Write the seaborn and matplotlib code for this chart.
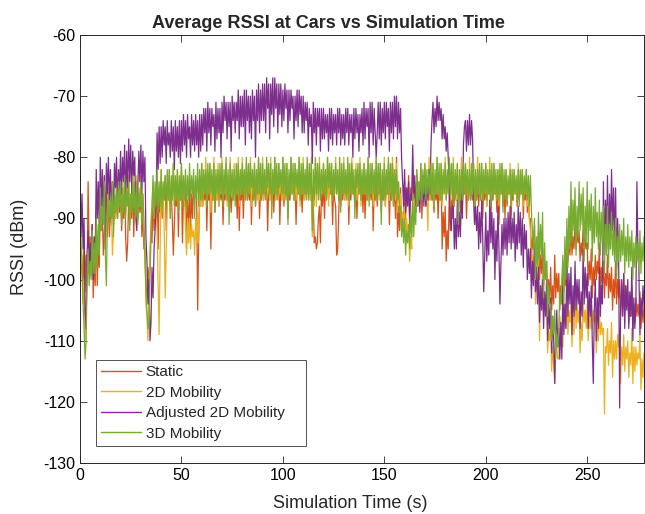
import numpy as np
import seaborn as sns
import matplotlib
matplotlib.use("Agg")
import matplotlib.pyplot as plt

# RSSI, one sample every half second of simulation time (0 .. 278 s)
SAMPLE_STEP_S = 0.5

static_rssi = [
    -88, -97, -99, -103, -92, -102, -96, -100, -84, -96, -93, -98, -91, -103, -97, -101, -90, -101, -95, -98,
    -86, -92, -89, -96, -92, -89, -86, -93, -85, -93, -88, -91, -84, -91, -87, -90, -86, -90, -85, -89,
    -85, -92, -88, -90, -84, -93, -97, -94, -86, -91, -87, -90, -84, -93, -86, -89, -85, -90, -86, -89,
    -85, -93, -89, -95, -95, -101, -103, -98, -101, -96, -92, -94, -86, -92, -87, -90, -84, -95, -86, -89,
    -84, -90, -85, -87, -83, -92, -85, -87, -85, -88, -86, -90, -96, -91, -86, -88, -84, -93, -85, -87,
    -84, -94, -86, -88, -83, -95, -87, -92, -85, -92, -86, -90, -84, -87, -85, -87, -105, -93, -86, -88,
    -84, -88, -85, -87, -83, -92, -85, -87, -85, -95, -86, -87, -84, -89, -85, -87, -83, -88, -85, -87,
    -84, -91, -85, -87, -83, -87, -85, -86, -85, -89, -86, -87, -84, -86, -85, -90, -83, -92, -85, -87,
    -83, -90, -85, -86, -84, -87, -85, -87, -83, -91, -85, -87, -84, -88, -85, -86, -83, -90, -85, -87,
    -83, -87, -85, -86, -84, -92, -85, -87, -83, -86, -85, -89, -84, -87, -85, -86, -83, -91, -85, -87,
    -83, -88, -85, -86, -84, -90, -85, -87, -83, -86, -85, -87, -84, -91, -85, -86, -83, -87, -85, -89,
    -83, -87, -85, -86, -84, -86, -85, -87, -83, -90, -88, -94, -93, -95, -94, -90, -88, -94, -86, -88,
    -84, -90, -85, -86, -83, -87, -85, -86, -84, -91, -85, -87, -88, -96, -95, -90, -83, -88, -85, -87,
    -84, -87, -85, -86, -83, -91, -85, -87, -84, -86, -85, -88, -83, -90, -85, -86, -84, -87, -85, -89,
    -83, -90, -85, -87, -84, -86, -85, -87, -83, -92, -85, -87, -84, -88, -85, -86, -83, -89, -85, -87,
    -84, -88, -85, -86, -83, -91, -85, -87, -81, -88, -84, -90, -80, -93, -88, -92, -85, -92, -89, -91,
    -84, -90, -85, -87, -83, -92, -85, -87, -82, -87, -85, -88, -84, -87, -85, -86, -83, -90, -85, -87,
    -84, -88, -85, -86, -83, -87, -85, -87, -86, -89, -85, -87, -84, -90, -85, -87, -83, -95, -89, -93,
    -88, -97, -92, -95, -86, -92, -87, -90, -84, -88, -85, -87, -83, -86, -85, -89, -84, -87, -85, -86,
    -83, -90, -85, -86, -84, -87, -85, -87, -83, -91, -85, -87, -84, -88, -85, -86, -83, -90, -85, -87,
    -84, -88, -85, -86, -83, -90, -85, -87, -84, -86, -85, -89, -83, -91, -85, -86, -84, -88, -85, -90,
    -83, -88, -85, -86, -84, -90, -85, -87, -83, -86, -85, -88, -84, -87, -85, -86, -83, -90, -85, -87,
    -84, -89, -86, -90, -90, -97, -93, -95, -91, -99, -94, -97, -92, -100, -96, -99, -95, -101, -97, -100,
    -97, -104, -100, -103, -98, -105, -101, -104, -96, -103, -99, -102, -99, -105, -101, -104, -97, -102, -99, -101,
    -93, -97, -94, -96, -91, -96, -93, -95, -90, -95, -92, -94, -92, -97, -94, -96, -91, -96, -93, -95,
    -94, -101, -97, -100, -95, -103, -98, -101, -96, -100, -97, -99, -94, -102, -98, -101, -97, -103, -99, -101,
    -96, -103, -99, -102, -98, -105, -100, -103, -97, -104, -100, -103, -100, -106, -102, -105, -99, -105, -101, -104,
    -102, -107, -104, -106, -101, -108, -104, -107, -103, -106, -104, -106, -102, -108, -105, -107, -104,
]

mobility_2d_rssi = [
    -87, -94, -96, -104, -100, -110, -104, -99, -94, -99, -96, -98, -91, -98, -93, -97, -89, -97, -92, -95,
    -84, -91, -87, -90, -83, -95, -90, -88, -85, -90, -87, -89, -96, -92, -88, -90, -84, -89, -86, -88,
    -83, -90, -85, -88, -82, -89, -85, -87, -83, -91, -86, -88, -82, -88, -84, -87, -83, -90, -85, -88,
    -83, -90, -86, -92, -95, -104, -106, -110, -103, -96, -90, -88, -84, -90, -86, -89, -92, -101, -109, -95,
    -82, -89, -85, -92, -103, -95, -88, -86, -82, -90, -84, -87, -81, -88, -84, -87, -82, -89, -84, -87,
    -81, -88, -84, -87, -91, -96, -90, -94, -90, -95, -91, -93, -92, -96, -90, -94, -89, -94, -85, -88,
    -81, -88, -83, -86, -80, -87, -83, -86, -81, -89, -83, -87, -80, -86, -83, -87, -81, -88, -83, -86,
    -80, -87, -83, -86, -81, -88, -83, -86, -80, -86, -83, -87, -81, -87, -83, -86, -80, -88, -83, -86,
    -80, -86, -83, -87, -81, -87, -83, -86, -80, -88, -83, -86, -81, -86, -83, -87, -80, -87, -83, -86,
    -80, -87, -83, -86, -81, -86, -83, -87, -80, -88, -83, -86, -80, -87, -83, -86, -81, -86, -83, -87,
    -80, -87, -83, -86, -81, -88, -83, -86, -80, -86, -83, -87, -81, -87, -83, -86, -80, -88, -83, -86,
    -80, -87, -83, -86, -81, -86, -83, -87, -80, -93, -85, -88, -81, -88, -83, -86, -80, -87, -83, -86,
    -81, -86, -83, -87, -80, -88, -83, -86, -81, -87, -83, -86, -80, -86, -83, -87, -81, -88, -83, -86,
    -80, -87, -83, -86, -81, -88, -83, -86, -80, -86, -83, -87, -81, -87, -83, -86, -80, -88, -83, -86,
    -81, -86, -83, -87, -80, -87, -83, -86, -81, -88, -83, -86, -80, -86, -83, -87, -81, -87, -83, -86,
    -80, -88, -83, -86, -81, -87, -83, -86, -80, -86, -83, -87, -81, -89, -84, -88, -86, -92, -89, -91,
    -88, -94, -90, -92, -91, -97, -93, -95, -86, -90, -87, -89, -82, -88, -84, -87, -81, -87, -83, -86,
    -81, -86, -87, -92, -80, -87, -83, -86, -81, -88, -83, -86, -80, -86, -83, -87, -81, -88, -83, -86,
    -80, -87, -83, -86, -81, -88, -83, -86, -80, -86, -83, -87, -81, -87, -83, -86, -80, -88, -83, -86,
    -81, -86, -83, -87, -80, -87, -83, -86, -81, -88, -83, -86, -80, -86, -83, -87, -81, -87, -83, -86,
    -81, -88, -83, -86, -80, -87, -83, -86, -81, -86, -83, -87, -82, -88, -84, -86, -81, -87, -83, -86,
    -82, -87, -84, -86, -81, -88, -83, -86, -82, -86, -84, -87, -81, -87, -83, -86, -82, -88, -84, -86,
    -82, -88, -85, -90, -92, -100, -96, -99, -95, -104, -99, -102, -97, -110, -101, -104, -99, -106, -102, -104,
    -105, -112, -108, -110, -108, -115, -111, -114, -117, -109, -111, -113, -113, -106, -108, -111, -111, -104, -106, -108,
    -102, -109, -105, -107, -104, -111, -106, -109, -101, -108, -104, -107, -105, -112, -107, -110, -103, -107, -105, -108,
    -104, -110, -106, -108, -103, -108, -105, -107, -106, -112, -108, -110, -105, -109, -107, -109, -108, -122, -111, -112,
    -108, -114, -110, -112, -107, -116, -110, -113, -110, -113, -109, -111, -108, -117, -111, -114, -109, -115, -111, -113,
    -110, -116, -112, -114, -108, -117, -111, -115, -111, -114, -112, -113, -109, -118, -113, -116, -112,
]

adjusted_2d_rssi = [
    -82, -93, -86, -95, -90, -105, -108, -96, -92, -99, -94, -98, -91, -100, -93, -96, -82, -90, -84, -92,
    -80, -88, -82, -90, -83, -95, -81, -86, -80, -87, -82, -89, -84, -90, -81, -85, -80, -88, -82, -86,
    -79, -86, -80, -84, -78, -88, -79, -85, -77, -84, -78, -86, -79, -83, -80, -90, -92, -85, -79, -84,
    -78, -86, -79, -84, -80, -93, -97, -104, -100, -110, -107, -98, -103, -95, -92, -88, -76, -82, -75, -81,
    -75, -80, -74, -78, -75, -81, -74, -78, -76, -80, -74, -79, -75, -82, -74, -79, -75, -80, -74, -81,
    -74, -79, -73, -78, -74, -80, -73, -77, -75, -80, -73, -78, -74, -79, -73, -78, -74, -80, -73, -79,
    -73, -78, -72, -76, -72, -79, -71, -76, -72, -78, -72, -75, -73, -79, -71, -77, -72, -76, -72, -80,
    -71, -76, -70, -74, -71, -77, -71, -75, -71, -79, -70, -74, -71, -76, -71, -74, -69, -77, -70, -75,
    -70, -75, -69, -78, -69, -74, -70, -76, -70, -77, -69, -74, -70, -80, -69, -74, -68, -76, -69, -74,
    -68, -74, -68, -76, -67, -72, -68, -77, -68, -73, -67, -75, -67, -72, -68, -76, -68, -73, -68, -75,
    -69, -74, -68, -72, -69, -76, -69, -74, -69, -72, -70, -77, -70, -74, -69, -75, -69, -73, -70, -76,
    -70, -76, -71, -74, -71, -78, -72, -75, -73, -81, -71, -76, -72, -78, -72, -75, -72, -79, -72, -77,
    -72, -77, -73, -76, -73, -79, -72, -77, -72, -78, -73, -76, -73, -78, -72, -76, -72, -78, -73, -77,
    -73, -78, -72, -76, -72, -78, -73, -76, -73, -80, -72, -77, -72, -76, -73, -79, -73, -76, -72, -78,
    -71, -77, -72, -75, -72, -80, -71, -76, -71, -78, -72, -76, -80, -76, -71, -77, -71, -78, -72, -76,
    -71, -77, -71, -75, -72, -79, -71, -76, -71, -77, -70, -75, -70, -77, -71, -76, -72, -80, -84, -88,
    -82, -89, -85, -88, -84, -90, -86, -87, -78, -86, -83, -89, -83, -88, -85, -89, -84, -87, -83, -88,
    -83, -88, -84, -87, -82, -86, -78, -74, -71, -76, -72, -75, -70, -74, -71, -74, -72, -77, -73, -77,
    -75, -79, -76, -80, -85, -90, -92, -88, -88, -95, -90, -95, -87, -93, -89, -93, -86, -90, -78, -75,
    -74, -79, -74, -78, -73, -78, -74, -77, -86, -91, -88, -92, -88, -95, -89, -94, -87, -93, -102, -96,
    -89, -97, -92, -96, -87, -94, -89, -95, -90, -100, -92, -97, -88, -95, -104, -97, -91, -96, -90, -95,
    -90, -96, -89, -94, -88, -95, -90, -94, -89, -97, -91, -95, -88, -94, -89, -96, -90, -98, -91, -95,
    -92, -100, -95, -99, -95, -103, -97, -101, -94, -102, -98, -104, -98, -107, -101, -105, -100, -108, -102, -106,
    -100, -110, -104, -108, -103, -112, -106, -110, -117, -109, -105, -111, -108, -113, -107, -113, -101, -109, -104, -108,
    -96, -106, -99, -104, -98, -109, -101, -106, -97, -105, -100, -104, -100, -108, -102, -106, -95, -104, -98, -103,
    -99, -108, -102, -106, -101, -110, -117, -105, -100, -110, -103, -108, -98, -106, -101, -104, -84, -96, -87, -93,
    -83, -95, -86, -92, -82, -92, -85, -94, -85, -98, -90, -96, -121, -104, -100, -106, -99, -108, -101, -105,
    -100, -108, -102, -106, -98, -110, -103, -108, -104, -84, -95, -99, -109, -103, -106, -101, -104,
]

mobility_3d_rssi = [
    -88, -95, -97, -104, -108, -113, -110, -100, -95, -101, -97, -100, -92, -99, -94, -99, -90, -98, -91, -96,
    -85, -92, -88, -91, -84, -96, -101, -90, -86, -91, -87, -90, -84, -93, -86, -89, -85, -90, -84, -88,
    -84, -91, -86, -89, -83, -90, -85, -88, -84, -92, -86, -89, -83, -89, -85, -90, -84, -91, -86, -88,
    -84, -91, -86, -90, -96, -102, -105, -108, -108, -100, -93, -88, -83, -90, -84, -88, -82, -89, -84, -88,
    -82, -89, -84, -87, -83, -88, -82, -87, -82, -90, -83, -87, -81, -88, -83, -87, -82, -89, -83, -87,
    -81, -88, -83, -87, -82, -89, -83, -87, -81, -87, -83, -86, -82, -90, -83, -87, -81, -88, -82, -87,
    -81, -87, -82, -86, -82, -88, -81, -86, -81, -86, -82, -87, -81, -89, -82, -86, -82, -87, -81, -86,
    -81, -88, -82, -86, -80, -87, -82, -91, -81, -86, -82, -87, -82, -88, -81, -86, -81, -87, -82, -86,
    -81, -86, -82, -87, -80, -87, -81, -86, -81, -85, -82, -87, -81, -88, -82, -86, -80, -86, -81, -87,
    -81, -86, -82, -87, -80, -85, -81, -86, -81, -90, -82, -86, -80, -86, -81, -87, -81, -85, -82, -86,
    -80, -86, -81, -87, -81, -91, -82, -86, -80, -86, -81, -87, -81, -85, -82, -86, -80, -87, -81, -86,
    -81, -86, -82, -87, -80, -87, -81, -86, -81, -92, -82, -87, -80, -86, -81, -87, -81, -87, -82, -86,
    -81, -86, -82, -87, -80, -85, -81, -86, -81, -87, -82, -86, -81, -86, -82, -87, -80, -89, -81, -86,
    -81, -86, -82, -87, -80, -87, -81, -86, -81, -86, -82, -90, -82, -85, -81, -86, -81, -87, -82, -86,
    -81, -86, -82, -87, -80, -88, -81, -86, -81, -86, -82, -87, -80, -87, -81, -86, -81, -91, -82, -87,
    -81, -87, -82, -86, -80, -86, -81, -87, -81, -88, -82, -86, -82, -87, -84, -89, -88, -93, -90, -94,
    -90, -96, -92, -94, -91, -95, -89, -93, -86, -93, -88, -91, -82, -88, -84, -87, -81, -87, -82, -86,
    -81, -87, -82, -86, -82, -86, -81, -87, -81, -88, -82, -86, -80, -86, -81, -87, -81, -87, -82, -86,
    -81, -87, -82, -86, -80, -86, -81, -87, -81, -88, -82, -86, -81, -91, -82, -87, -82, -87, -81, -86,
    -81, -86, -82, -87, -82, -87, -81, -86, -81, -88, -82, -87, -82, -86, -81, -87, -81, -87, -82, -86,
    -81, -87, -82, -86, -82, -88, -81, -87, -81, -86, -82, -87, -82, -87, -81, -86, -81, -89, -82, -87,
    -82, -87, -83, -86, -82, -88, -82, -87, -82, -86, -83, -87, -82, -88, -82, -86, -82, -87, -83, -86,
    -82, -87, -83, -88, -83, -89, -92, -95, -90, -100, -93, -98, -89, -97, -91, -96, -89, -103, -94, -100,
    -97, -106, -101, -104, -104, -110, -106, -109, -105, -113, -109, -111, -108, -102, -104, -100, -96, -104, -93, -100,
    -90, -98, -88, -95, -84, -94, -87, -92, -85, -96, -88, -93, -84, -92, -86, -91, -85, -97, -88, -94,
    -84, -95, -87, -92, -86, -97, -88, -94, -85, -93, -89, -95, -87, -96, -89, -94, -88, -99, -91, -96,
    -88, -98, -91, -95, -89, -96, -92, -97, -90, -100, -93, -97, -91, -97, -92, -96, -90, -99, -93, -97,
    -91, -98, -93, -97, -92, -100, -94, -98, -93, -97, -94, -99, -92, -99, -94, -97, -93,
]

series_names = ["Static", "2D Mobility", "Adjusted 2D Mobility", "3D Mobility"]
series_colors = ["#D95319", "#EDB120", "#7E2F8E", "#77AC30"]
x_ticks = [0, 50, 100, 150, 200, 250]
y_ticks = [-130, -120, -110, -100, -90, -80, -70, -60]

sns.set_style("ticks")
plt.rcParams["font.family"] = ["Liberation Sans", "DejaVu Sans"]
plt.rcParams["axes.unicode_minus"] = False

fig = plt.figure(figsize=(6.45, 5.14), dpi=100)
ax = fig.add_axes([80 / 645, 51 / 514, 564 / 645, 428 / 514])

all_series = [static_rssi, mobility_2d_rssi, adjusted_2d_rssi, mobility_3d_rssi]
for name, color, values in zip(series_names, series_colors, all_series):
    time_s = np.arange(len(values)) * SAMPLE_STEP_S
    sns.lineplot(x=time_s, y=values, color=color, linewidth=0.9, label=name, ax=ax)

ax.set_xlim(0, 278)
ax.set_ylim(-130, -60)
ax.set_xticks(x_ticks)
ax.set_yticks(y_ticks)
ax.tick_params(direction="in", top=True, right=True, length=5, width=0.6,
               colors="#262626", labelcolor="black", labelsize=11.5)
for sp in ax.spines.values():
    sp.set_visible(True)
    sp.set_color("#262626")
    sp.set_linewidth(0.7)

ax.set_title("Average RSSI at Cars vs Simulation Time", fontsize=13, fontweight="bold",
             x=(328 - 80) / 564, pad=5)
ax.set_xlabel("Simulation Time (s)", fontsize=13)
ax.set_ylabel("RSSI (dBm)", fontsize=13)
ax.xaxis.set_label_coords(0.48, -0.074)
ax.yaxis.set_label_coords(-0.092, 0.505)

leg = ax.legend(loc="lower left", bbox_to_anchor=(16 / 564, 17 / 428, 210 / 564, 0.2),
                mode="expand", borderaxespad=0, frameon=True, fancybox=False,
                fontsize=11, handlelength=2.6, labelspacing=0.42, borderpad=0.35,
                handletextpad=0.3)
leg.get_frame().set_edgecolor("#262626")
leg.get_frame().set_linewidth(0.7)
for line in leg.get_lines():
    line.set_linewidth(1.0)

fig.savefig("out.png", dpi=100)
